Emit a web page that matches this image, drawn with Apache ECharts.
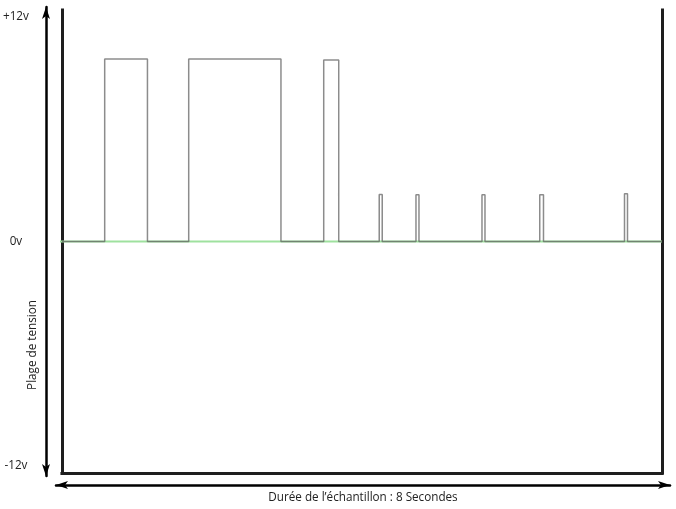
<!DOCTYPE html>
<html>
<head>
<meta charset="utf-8">
<script src="https://cdn.jsdelivr.net/npm/echarts@6/dist/echarts.min.js"></script>
<style>html,body{margin:0;padding:0;background:#fff}#c{width:676px;height:509px}</style>
</head>
<body>
<div id="c"></div>
<script>
// Signal pulses (seconds, volts)
var pulseStarts = [0.57, 1.69, 3.49, 4.23, 4.72, 5.60, 6.37, 7.50];
var pulseEnds   = [1.14, 2.92, 3.69, 4.27, 4.76, 5.64, 6.42, 7.54];
var pulseLevels = [9.76, 9.76, 9.70, 2.52, 2.50, 2.50, 2.50, 2.55];
var durationSec = 8;
var yTickValues = [-12, 0, 12];
var yTickLabels = ['-12v', '0v', '+12v'];
var yTitle = 'Plage de tension';
var xTitle = 'Durée de l’échantillon : 8 Secondes';

var signal = [[0, 0]];
for (var i = 0; i < pulseStarts.length; i++) {
  signal.push([pulseStarts[i], 0], [pulseStarts[i], pulseLevels[i]],
              [pulseEnds[i], pulseLevels[i]], [pulseEnds[i], 0]);
}
signal.push([durationSec, 0]);
var zeroLine = [[-0.19, 0], [durationSec, 0]];

var FONT = 'Open Sans';
var FS = 11.7;
var chart = echarts.init(document.getElementById('c'));
chart.setOption({
  animation: false,
  grid: [
    {left: 60, right: 14, top: 10, bottom: 36},
    {left: 56, right: 6, top: 7, bottom: 32}
  ],
  xAxis: [
    {type: 'value', gridIndex: 0, min: 0, max: durationSec,
     axisLine: {show: true, onZero: false, lineStyle: {color: '#1e1e1e', width: 3, cap: 'square'}},
     axisTick: {show: false}, axisLabel: {show: false}, splitLine: {show: false}},
    {type: 'value', gridIndex: 1, min: 0, max: 1, offset: 9,
     axisLine: {show: true, onZero: false, symbol: ['arrow', 'arrow'], symbolSize: [6, 12],
                lineStyle: {color: '#000', width: 2.5}},
     axisTick: {show: false}, axisLabel: {show: false}, splitLine: {show: false},
     name: xTitle, nameLocation: 'middle', nameGap: 7,
     nameTextStyle: {fontFamily: FONT, fontSize: FS, color: '#222'}}
  ],
  yAxis: [
    {type: 'value', gridIndex: 0, min: -12.38, max: 12.38, position: 'left',
     axisLine: {show: true, onZero: false, lineStyle: {color: '#1e1e1e', width: 3, cap: 'square'}},
     axisTick: {show: false}, splitLine: {show: false},
     axisLabel: {show: true, customValues: yTickValues, align: 'center', margin: 46,
                 fontFamily: FONT, fontSize: FS, color: '#222',
                 formatter: function (v) { var k = yTickValues.indexOf(Math.round(v)); return k >= 0 ? yTickLabels[k] : ''; }}},
    {type: 'value', gridIndex: 0, min: -12.38, max: 12.38, position: 'right',
     axisLine: {show: true, onZero: false, lineStyle: {color: '#1e1e1e', width: 3, cap: 'square'}},
     axisTick: {show: false}, axisLabel: {show: false}, splitLine: {show: false}},
    {type: 'value', gridIndex: 1, min: 0, max: 1, position: 'left', offset: 10,
     axisLine: {show: true, onZero: false, symbol: ['arrow', 'arrow'], symbolSize: [6, 12],
                lineStyle: {color: '#000', width: 2.5}},
     axisTick: {show: false}, axisLabel: {show: false}, splitLine: {show: false}}
  ],
  graphic: [{
    type: 'text', x: 33, y: 345, rotation: Math.PI / 2,
    style: {text: yTitle, fontFamily: FONT, fontSize: FS, fill: '#222', align: 'center', verticalAlign: 'middle'}
  }],
  series: [
    {type: 'line', xAxisIndex: 0, yAxisIndex: 0, data: zeroLine, clip: false,
     symbol: 'none', silent: true, z: 2,
     lineStyle: {color: '#9fe19f', width: 2}},
    {type: 'line', xAxisIndex: 0, yAxisIndex: 0, data: signal,
     symbol: 'none', silent: true, z: 3,
     lineStyle: {color: 'rgba(95,95,95,0.72)', width: 1.5}}
  ]
});
</script>
</body>
</html>
